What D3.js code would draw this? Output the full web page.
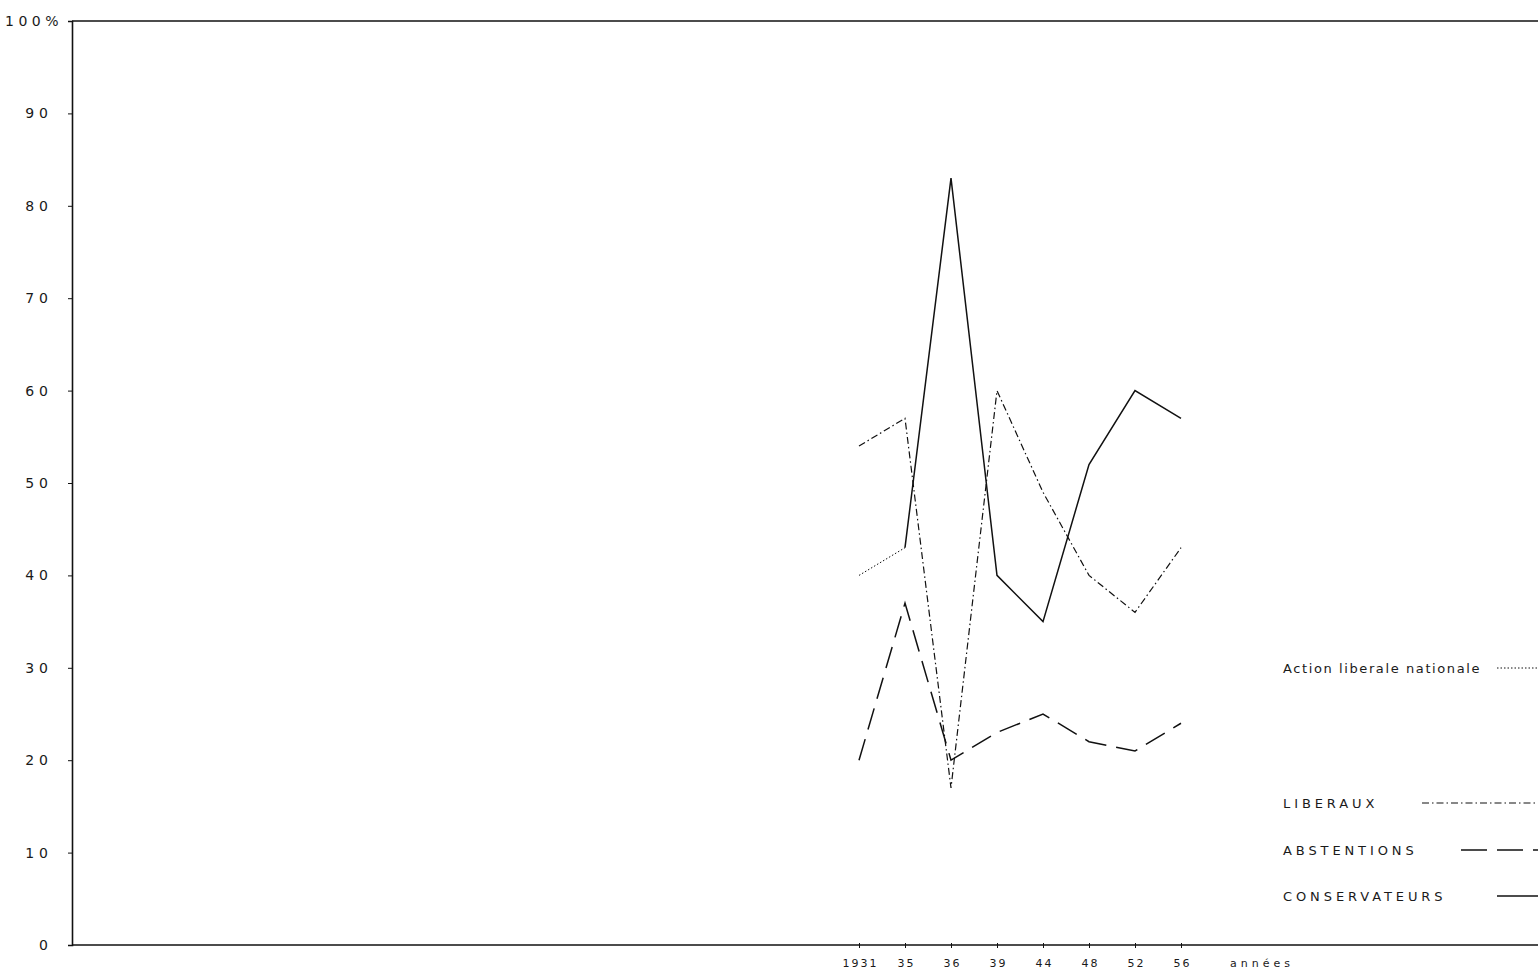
<!DOCTYPE html>
<html>
<head>
<meta charset="utf-8">
<script src="https://cdn.jsdelivr.net/npm/d3@7"></script>
<style>
  body { margin: 0; background: #fff; }
  svg text { font-family: "DejaVu Sans", sans-serif; fill: #1a1a1a; }
</style>
</head>
<body>
<svg id="chart"></svg>
<script>
// election years (x axis)
let years = ["1931", "35", "36", "39", "44", "48", "52", "56"];
let yTicks = [0, 10, 20, 30, 40, 50, 60, 70, 80, 90, 100];

// percentages, null = no point
let conservateurs = [null, 43, 83, 40, 35, 52, 60, 57];
let abstentions   = [20, 37, 20, 23, 25, 22, 21, 24];
let liberaux      = [54, 57, 17, 60, 49, 40, 36, 43];
let actionLib     = [40, 43, null, null, null, null, null, null];

let legendNames = ["Action liberale nationale", "LIBERAUX", "ABSTENTIONS", "CONSERVATEURS"];

let W = 1538, H = 971;
// (top is taken by window.top, so plotTop etc.)
let plotLeft = 72, plotRight = 1538, plotTop = 21, plotBottom = 945;

let svg = d3.select("#chart").attr("width", W).attr("height", H);

let y = d3.scaleLinear().domain([0, 100]).range([plotBottom, plotTop]);
let x = d3.scalePoint().domain(years).range([859, 1181]);

// top frame line
svg.append("line").attr("x1", plotLeft).attr("x2", plotRight).attr("y1", plotTop).attr("y2", plotTop)
   .attr("stroke", "#111").attr("stroke-width", 1.6);

// y axis
let yAxis = d3.axisLeft(y).tickValues(yTicks).tickSize(4).tickPadding(15)
    .tickFormat(d => d == 100 ? "" : d);
let gy = svg.append("g").attr("transform", "translate(" + plotLeft + ",0)").call(yAxis);
gy.select(".domain").attr("stroke", "#111").attr("stroke-width", 1.6);
gy.selectAll(".tick line").attr("stroke", "#111");
gy.selectAll(".tick text").style("font-size", "14px").style("letter-spacing", "5px")
  .attr("font-family", "DejaVu Sans").attr("fill", "#1a1a1a");
svg.append("text").attr("x", 5).attr("y", plotTop + 5).text("100%")
   .style("font-size", "14px").style("letter-spacing", "4.5px");

// x axis
let xAxis = d3.axisBottom(x).tickSize(3).tickPadding(11);
let gx = svg.append("g").attr("transform", "translate(0," + plotBottom + ")").call(xAxis);
gx.select(".domain").remove();
gx.selectAll(".tick line").attr("stroke", "#111").attr("y1", -2);
gx.selectAll(".tick text").style("font-size", "11px").style("letter-spacing", "2px")
  .attr("dx", "1px")
  .attr("font-family", "DejaVu Sans").attr("fill", "#1a1a1a");
svg.append("line").attr("x1", plotLeft).attr("x2", plotRight).attr("y1", plotBottom).attr("y2", plotBottom)
   .attr("stroke", "#111").attr("stroke-width", 1.6);
svg.append("text").attr("x", 1230).attr("y", plotBottom + 22).text("années")
   .style("font-size", "11px").style("letter-spacing", "4px");

// series lines
let line = d3.line()
    .defined(d => d != null)
    .x((d, i) => x(years[i]))
    .y(d => y(d));

let series = [
  { values: actionLib, dash: "1.5,2", width: 1 },
  { values: liberaux, dash: "7,3,1.5,3", width: 1.2 },
  { values: abstentions, dash: "22,10", width: 1.5 },
  { values: conservateurs, dash: null, width: 1.5 }
];

svg.selectAll("path.series").data(series).enter().append("path")
   .attr("class", "series")
   .attr("d", d => line(d.values))
   .attr("fill", "none")
   .attr("stroke", "#111")
   .attr("stroke-width", d => d.width)
   .attr("stroke-dasharray", d => d.dash);

// legend
let legendY = [668, 803, 850, 896];
let legendX2 = [1497, 1422, 1461, 1497];
let lg = svg.selectAll("g.legend").data(legendNames).enter().append("g").attr("class", "legend");
lg.append("text").attr("x", 1283).attr("y", (d, i) => legendY[i] + 5)
  .text(d => d)
  .style("font-size", "13px")
  .style("letter-spacing", (d, i) => i == 0 ? "1.6px" : "3.9px");
lg.append("line")
  .attr("x1", (d, i) => legendX2[i]).attr("x2", plotRight)
  .attr("y1", (d, i) => legendY[i]).attr("y2", (d, i) => legendY[i])
  .attr("stroke", "#111")
  .attr("stroke-width", (d, i) => series[i].width)
  .attr("stroke-dasharray", (d, i) => i == 2 ? "26,10" : series[i].dash);
</script>
</body>
</html>
